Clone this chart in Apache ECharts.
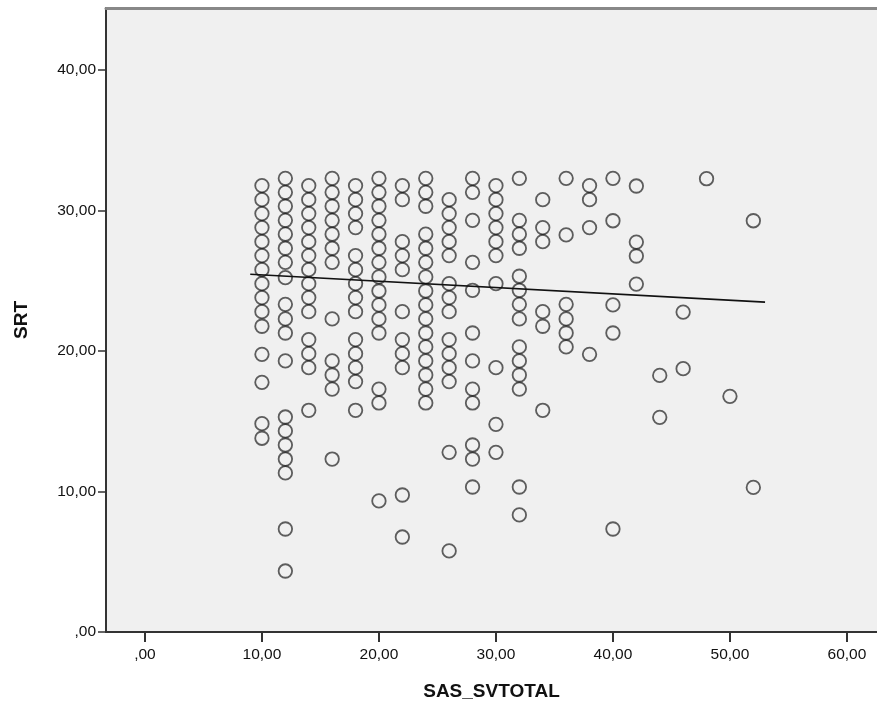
<!DOCTYPE html>
<html>
<head>
<meta charset="utf-8">
<script src="https://cdn.jsdelivr.net/npm/echarts@6/dist/echarts.min.js"></script>
<style>
    html, body { margin: 0; padding: 0; background: #fff; }
    #chart { width: 877px; height: 711px; }
</style>
</head>
<body>
<div id="chart"></div>
<script>
// SAS_SVTOTAL levels (x) and the SRT values found at each level (y)
const sasLevels = [10, 12, 14, 16, 18, 20, 22, 24, 26, 28, 30, 32, 34, 36, 38, 40, 42, 44, 46, 48, 50, 52]
const srtByLevel = [
    [31.77, 30.77, 29.78, 28.78, 27.78, 26.79, 25.79, 24.79, 23.8, 22.8, 21.76, 19.76, 17.77, 14.83, 13.79],
    [32.29, 31.29, 30.3, 29.3, 28.31, 27.31, 26.31, 25.22, 23.32, 22.28, 21.28, 19.29, 15.3, 14.31, 13.31, 12.31, 11.32, 7.33, 4.34],
    [31.77, 30.77, 29.78, 28.78, 27.78, 26.79, 25.79, 24.79, 23.8, 22.8, 20.81, 19.81, 18.81, 15.78],
    [32.29, 31.29, 30.3, 29.3, 28.31, 27.31, 26.31, 22.28, 19.29, 18.29, 17.29, 12.31],
    [31.77, 30.77, 29.78, 28.78, 26.79, 25.79, 24.79, 23.8, 22.8, 20.81, 19.81, 18.81, 17.82, 15.78],
    [32.29, 31.29, 30.3, 29.3, 28.31, 27.31, 26.31, 25.27, 24.27, 23.28, 22.28, 21.28, 17.29, 16.3, 9.33],
    [31.77, 30.77, 27.78, 26.79, 25.79, 22.8, 20.81, 19.81, 18.81, 9.75, 6.76],
    [32.29, 31.29, 30.3, 28.31, 27.31, 26.31, 25.27, 24.27, 23.28, 22.28, 21.28, 20.29, 19.29, 18.29, 17.29, 16.3],
    [30.77, 29.78, 28.78, 27.78, 26.79, 24.79, 23.8, 22.8, 20.81, 19.81, 18.81, 17.82, 12.79, 5.77],
    [32.29, 31.29, 29.3, 26.31, 24.32, 21.28, 19.29, 17.29, 16.3, 13.31, 12.31, 10.32],
    [31.77, 30.77, 29.78, 28.78, 27.78, 26.79, 24.79, 18.81, 14.78, 12.79],
    [32.29, 29.3, 28.31, 27.31, 25.32, 24.32, 23.32, 22.28, 20.29, 19.29, 18.29, 17.29, 10.32, 8.33],
    [30.77, 28.78, 27.78, 22.8, 21.76, 15.78],
    [32.29, 28.26, 23.32, 22.28, 21.28, 20.29],
    [31.77, 30.77, 28.78, 19.76],
    [32.29, 29.27, 23.28, 21.28, 7.33],
    [31.74, 27.75, 26.76, 24.76],
    [18.26, 15.28],
    [22.77, 18.74],
    [32.26],
    [16.77],
    [29.27, 10.29],
]
// linear fit line end points
const fitX = [9, 53]
const fitY = [25.46, 23.48]
// tick labels
const xTicks = [0, 10, 20, 30, 40, 50, 60]
const yTicks = [0, 10, 20, 30, 40]

const fmt = (v) => {
    const s = v.toFixed(2).replace('.', ',')
    return s.startsWith('0,') ? s.slice(1) : s
}

const points = []
sasLevels.forEach((x, i) => {
    srtByLevel[i].forEach((y) => points.push([x, y]))
})

const labelFont = {
    fontFamily: 'Liberation Sans, Arial, sans-serif',
    fontSize: 15.5,
    color: '#111',
}
const titleFont = {
    fontFamily: 'Liberation Sans, Arial, sans-serif',
    fontSize: 19,
    fontWeight: 'bold',
    color: '#111',
}

const myChart = echarts.init(document.getElementById('chart'))
const option = {
    backgroundColor: '#fff',
    animation: false,
    grid: {
        left: 106,
        right: 0,
        top: 8,
        bottom: 79,
        show: true,
        backgroundColor: '#f0f0f0',
        borderWidth: 0,
    },
    xAxis: [
        {
            type: 'value',
            min: -3.33,
            max: 62.57,
            name: 'SAS_SVTOTAL',
            nameLocation: 'middle',
            nameGap: 50,
            nameTextStyle: titleFont,
            splitLine: { show: false },
            axisLine: { onZero: false, lineStyle: { color: '#333', width: 2 } },
            axisTick: { customValues: xTicks, length: 10, lineStyle: { color: '#333', width: 2 } },
            axisLabel: Object.assign({ customValues: xTicks, margin: 15, formatter: fmt }, labelFont),
        },
        {
            type: 'value',
            position: 'top',
            min: -3.33,
            max: 62.57,
            splitLine: { show: false },
            axisLine: { onZero: false, lineStyle: { color: '#888', width: 3 } },
            axisTick: { show: false },
            axisLabel: { show: false },
        },
    ],
    yAxis: {
        type: 'value',
        min: 0,
        max: 44.41,
        name: 'SRT',
        nameLocation: 'middle',
        nameGap: 75,
        nameRotate: 90,
        nameTextStyle: titleFont,
        splitLine: { show: false },
        axisLine: { onZero: false, lineStyle: { color: '#333', width: 2 } },
        axisTick: { customValues: yTicks, length: 8, lineStyle: { color: '#333', width: 1.5 } },
        axisLabel: Object.assign({ customValues: yTicks, margin: 10, formatter: fmt }, labelFont),
    },
    series: [
        {
            type: 'scatter',
            data: points,
            symbol: 'circle',
            symbolSize: 13.5,
            itemStyle: {
                color: 'rgba(0,0,0,0)',
                borderColor: 'rgba(10,10,10,0.8)',
                borderWidth: 1.8,
            },
            emphasis: { disabled: true },
        },
        {
            type: 'line',
            data: fitX.map((x, i) => [x, fitY[i]]),
            symbol: 'none',
            lineStyle: { color: '#111', width: 1.6 },
            z: 3,
        },
    ],
}
myChart.setOption(option)
</script>
</body>
</html>
